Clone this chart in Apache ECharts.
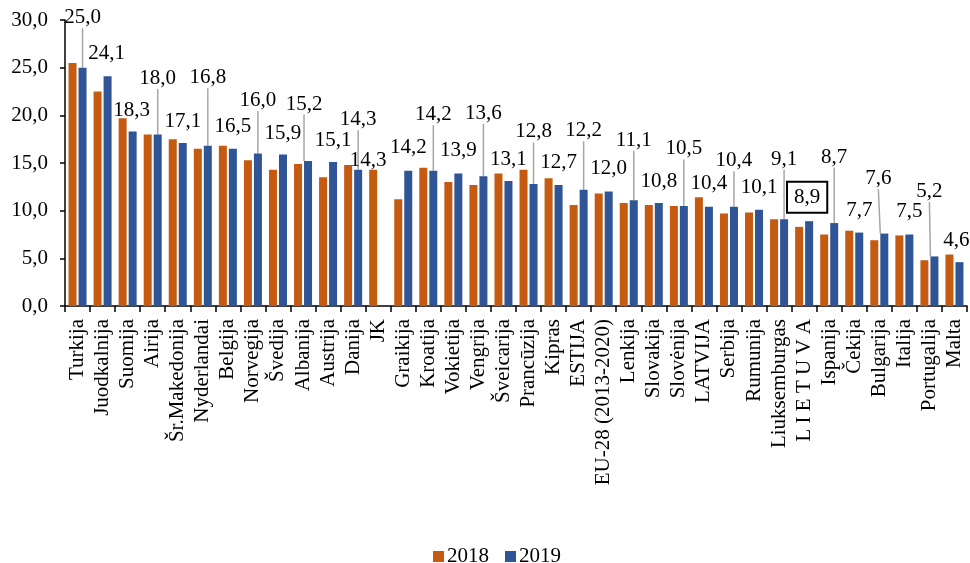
<!DOCTYPE html>
<html>
<head>
<meta charset="utf-8">
<script src="https://cdn.jsdelivr.net/npm/echarts@6/dist/echarts.min.js"></script>
<style>html,body{margin:0;padding:0;background:#fff;}#c{width:970px;height:563px;}</style>
</head>
<body>
<div id="c"></div>
<script>
const categories = ['Turkija','Juodkalnija','Suomija','Airija','Šr.Makedonija','Nyderlandai','Belgija','Norvegija','Švedija','Albanija','Austrija','Danija','JK','Graikija','Kroatija','Vokietija','Vengrija','Šveicarija','Prancūzija','Kipras','ESTIJA','EU-28 (2013-2020)','Lenkija','Slovakija','Slovėnija','LATVIJA','Serbija','Rumunija','Liuksemburgas','L I E T U V A','Ispanija','Čekija','Bulgarija','Italija','Portugalija','Malta'];
const values2018 = [25.5,22.5,19.7,18.0,17.5,16.5,16.8,15.3,14.3,14.9,13.5,14.8,14.3,11.2,14.5,13.0,12.7,13.9,14.3,13.4,10.6,11.8,10.8,10.6,10.5,11.4,9.7,9.8,9.1,8.3,7.5,7.9,6.9,7.4,4.8,5.4];
const values2019 = [25.0,24.1,18.3,18.0,17.1,16.8,16.5,16.0,15.9,15.2,15.1,14.3,null,14.2,14.2,13.9,13.6,13.1,12.8,12.7,12.2,12.0,11.1,10.8,10.5,10.4,10.4,10.1,9.1,8.9,8.7,7.7,7.6,7.5,5.2,4.6];
const yTicks = {min: 0, max: 30, interval: 5};

// label placement (style): pixels from bar top to label centre, horizontal shift
const labelLift = [50,23,21,56,21,68,22,53,21,57,22,50,0,23,56,23,63,22,52,22,59,23,60,22,57,23,46,22,60,24,66,22,55,23,65,22];
const labelShift = [0,-1,-1,0,0,0,0,0,0,-4,0,0,0,0,0,0,0,0,0,0,0,0,0,0,0,0,0,0,0,-2,0,0,-6,0,-5,-3];
const jkLift = 9;
const boxedIndex = 29;

const FONT = "'Liberation Serif','Times New Roman',serif";
const FS = 21;
const fmt = v => Number(v).toFixed(1).replace('.', ',');

const d2019 = values2019.map((v, i) => {
  const item = {value: v};
  if (labelLift[i] > 35) item.labelLine = {show: true};
  if (i === boxedIndex) item.label = {borderColor: '#000', borderWidth: 2, padding: [5, 7, 5, 7]};
  return item;
});
const d2018 = values2018.map((v, i) => {
  const item = {value: v};
  if (values2019[i] == null) item.label = {show: true};
  return item;
});

function layoutFor(liftFn, shiftFn) {
  return function (p) {
    const r = p.rect, lr = p.labelRect;
    const top = Math.min(r.y, r.y + r.height);
    const target = top - liftFn(p.dataIndex);
    const cur = lr.y + lr.height / 2;
    return {dy: target - cur, dx: shiftFn(p.dataIndex)};
  };
}

const chart = echarts.init(document.getElementById('c'), null, {renderer: 'canvas'});
chart.setOption({
  animation: false,
  textStyle: {fontFamily: FONT},
  grid: {left: 65, right: 3, top: 20, bottom: 257, containLabel: false},
  legend: {
    data: ['2018', '2019'], left: 428, top: 541,
    itemWidth: 11, itemHeight: 11, itemGap: 16,
    icon: 'rect',
    textStyle: {fontFamily: FONT, fontSize: FS, color: '#000', padding: [0, 0, 0, -2]}
  },
  xAxis: {
    type: 'category', data: categories,
    axisLine: {lineStyle: {color: '#000', width: 1.5}},
    axisTick: {show: true, length: 6, lineStyle: {color: '#000', width: 1.5}},
    axisLabel: {rotate: 90, interval: 0, margin: 13, fontFamily: FONT, fontSize: FS, color: '#000'}
  },
  yAxis: {
    type: 'value', min: yTicks.min, max: yTicks.max, interval: yTicks.interval,
    splitLine: {show: false},
    axisLine: {show: true, lineStyle: {color: '#000', width: 1.5}},
    axisTick: {show: true, length: 5, lineStyle: {color: '#000', width: 1.5}},
    axisLabel: {formatter: fmt, margin: 17, fontFamily: FONT, fontSize: FS, color: '#000'}
  },
  series: [
    {
      name: '2018', type: 'bar', data: d2018,
      barWidth: 8, barGap: '25%',
      itemStyle: {color: '#C55A11'},
      label: {show: false, position: 'top', formatter: p => fmt(p.value), fontFamily: FONT, fontSize: FS, color: '#000', lineHeight: 21},
      labelLayout: layoutFor(() => jkLift, () => -5)
    },
    {
      name: '2019', type: 'bar', data: d2019,
      barWidth: 8,
      itemStyle: {color: '#2F5597'},
      label: {show: true, position: 'top', formatter: p => fmt(p.value), fontFamily: FONT, fontSize: FS, color: '#000', lineHeight: 21},
      labelLine: {show: false, lineStyle: {color: '#A6A6A6', width: 1.5}},
      labelLayout: layoutFor(i => labelLift[i], i => labelShift[i])
    }
  ]
});
</script>
</body>
</html>
